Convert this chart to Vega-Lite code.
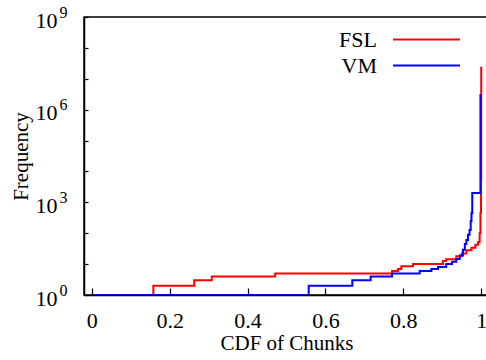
{
  "$schema": "https://vega.github.io/schema/vega-lite/v6.json",
  "width": 405,
  "height": 278,
  "autosize": {"type": "none"},
  "padding": {"left": 84, "top": 17, "right": 0, "bottom": 65},
  "background": "white",
  "config": {
    "font": "Liberation Serif",
    "view": {"stroke": "black", "strokeWidth": 1.5},
    "axis": {"grid": false, "domainColor": "black", "domainWidth": 1.5, "tickColor": "black", "tickWidth": 1.2, "labelFont": "Liberation Serif", "titleFont": "Liberation Serif", "labelColor": "black", "titleColor": "black", "titleFontWeight": "normal", "labelFontSize": 22, "titleFontSize": 21}
  },
  "data": {
    "values": [
      {"series": "FSL", "cdf": 0, "freq": 1},
      {"series": "FSL", "cdf": 0.158, "freq": 2},
      {"series": "FSL", "cdf": 0.263, "freq": 3},
      {"series": "FSL", "cdf": 0.308, "freq": 4},
      {"series": "FSL", "cdf": 0.471, "freq": 5},
      {"series": "FSL", "cdf": 0.771, "freq": 6},
      {"series": "FSL", "cdf": 0.786, "freq": 7},
      {"series": "FSL", "cdf": 0.795, "freq": 8.5},
      {"series": "FSL", "cdf": 0.825, "freq": 10},
      {"series": "FSL", "cdf": 0.902, "freq": 12.6},
      {"series": "FSL", "cdf": 0.91, "freq": 14.3},
      {"series": "FSL", "cdf": 0.936, "freq": 18},
      {"series": "FSL", "cdf": 0.95, "freq": 22},
      {"series": "FSL", "cdf": 0.962, "freq": 28},
      {"series": "FSL", "cdf": 0.975, "freq": 34},
      {"series": "FSL", "cdf": 0.985, "freq": 42},
      {"series": "FSL", "cdf": 0.992, "freq": 52},
      {"series": "FSL", "cdf": 0.996, "freq": 100},
      {"series": "FSL", "cdf": 0.998, "freq": 450},
      {"series": "FSL", "cdf": 0.9995, "freq": 5000},
      {"series": "FSL", "cdf": 1.0, "freq": 24500000},
      {"series": "VM", "cdf": 0, "freq": 1},
      {"series": "VM", "cdf": 0.557, "freq": 2},
      {"series": "VM", "cdf": 0.669, "freq": 3},
      {"series": "VM", "cdf": 0.716, "freq": 4},
      {"series": "VM", "cdf": 0.771, "freq": 5},
      {"series": "VM", "cdf": 0.842, "freq": 6},
      {"series": "VM", "cdf": 0.872, "freq": 7},
      {"series": "VM", "cdf": 0.889, "freq": 8},
      {"series": "VM", "cdf": 0.91, "freq": 10},
      {"series": "VM", "cdf": 0.925, "freq": 12},
      {"series": "VM", "cdf": 0.936, "freq": 14.6},
      {"series": "VM", "cdf": 0.945, "freq": 19},
      {"series": "VM", "cdf": 0.953, "freq": 29},
      {"series": "VM", "cdf": 0.958, "freq": 45},
      {"series": "VM", "cdf": 0.962, "freq": 60},
      {"series": "VM", "cdf": 0.966, "freq": 90},
      {"series": "VM", "cdf": 0.97, "freq": 126},
      {"series": "VM", "cdf": 0.973, "freq": 250},
      {"series": "VM", "cdf": 0.975, "freq": 440},
      {"series": "VM", "cdf": 0.977, "freq": 2000},
      {"series": "VM", "cdf": 0.998, "freq": 3200000}
    ]
  },
  "layer": [
    {
      "mark": {"type": "line", "interpolate": "step-after", "strokeWidth": 2, "clip": true},
      "encoding": {
        "x": {
          "field": "cdf", "type": "quantitative",
          "scale": {"domain": [-0.02, 1.02], "nice": false, "zero": false},
          "axis": {"title": "CDF of Chunks", "values": [0, 0.2, 0.4, 0.6, 0.8, 1], "format": "~g", "tickSize": -7, "labelPadding": 39, "titlePadding": 1, "labelBaseline": "alphabetic"}
        },
        "y": {
          "field": "freq", "type": "quantitative",
          "scale": {"type": "log", "domain": [1, 1000000000], "nice": false},
          "axis": {"orient": "left", "title": "Frequency", "values": [1, 10, 100, 1000, 10000, 100000, 1000000, 10000000, 100000000, 1000000000], "labelExpr": "datum.value == 1 || datum.value == 1000 || datum.value == 1000000 || datum.value == 1000000000 ? '10' : ''", "tickSize": -4, "labelPadding": 31, "labelOffset": 3, "titlePadding": 4}
        },
        "color": {
          "field": "series", "type": "nominal",
          "scale": {"domain": ["FSL", "VM"], "range": ["#ff0000", "#0000ff"]},
          "legend": {
            "title": null, "orient": "none", "legendX": 330, "legendY": 10,
            "symbolType": "M-3,0H3", "symbolSize": 498, "symbolStrokeWidth": 2,
            "labelFont": "Liberation Serif", "labelFontSize": 22, "labelColor": "black",
            "labelAlign": "right", "labelOffset": -62, "rowPadding": 2
          }
        }
      }
    },
    {
      "mark": {"type": "point", "opacity": 0},
      "encoding": {
        "x": {"field": "cdf", "type": "quantitative"},
        "y": {
          "field": "freq", "type": "quantitative",
          "axis": {"orient": "left", "title": null, "domain": false, "ticks": false, "values": [1, 1000, 1000000, 1000000000], "labelExpr": "datum.value == 1 ? '0' : datum.value == 1000 ? '3' : datum.value == 1000000 ? '6' : '9'", "labelFontSize": 16, "labelPadding": 17, "labelBaseline": "alphabetic", "labelOffset": 0}
        }
      }
    }
  ],
  "resolve": {"axis": {"y": "independent"}}
}
